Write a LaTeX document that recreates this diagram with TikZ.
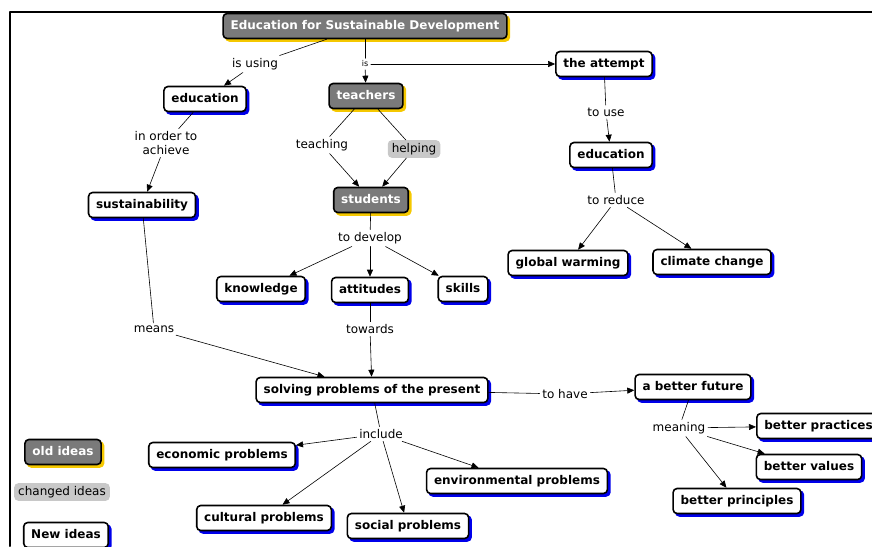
\documentclass[tikz,border=0pt]{standalone}
\usepackage{fontspec}
\setmainfont{DejaVu Sans}
\usetikzlibrary{arrows.meta,shadows}
\definecolor{oldgrey}{RGB}{122,122,122}
\definecolor{shadeyellow}{RGB}{245,200,0}
\definecolor{shadeblue}{RGB}{0,0,235}
\definecolor{lightgrey}{RGB}{200,200,200}
\tikzset{
    concept/.style={draw=black, line width=1.6pt, rounded corners=4pt, fill=white,
        font=\bfseries\fontsize{12}{14}\selectfont, minimum height=25pt, inner xsep=7.5pt,
        text height=9pt, text depth=2.5pt,
        copy shadow={shadow xshift=2.5pt, shadow yshift=-2.5pt, fill=shadeblue, draw=shadeblue}},
    oldconcept/.style={draw=black, line width=1.6pt, rounded corners=4pt, fill=oldgrey, text=white,
        font=\bfseries\fontsize{12}{14}\selectfont, minimum height=25pt, inner xsep=7.5pt,
        text height=9pt, text depth=2.5pt,
        copy shadow={shadow xshift=2.5pt, shadow yshift=-2.5pt, fill=shadeyellow, draw=shadeyellow}},
    linking/.style={font=\fontsize{12}{14}\selectfont, inner sep=2.5pt},
    changed/.style={linking, fill=lightgrey, rounded corners=4pt, inner xsep=4pt, inner ysep=3pt},
    link/.style={line width=0.6pt},
    arr/.style={link, -{Triangle[length=7pt,width=6pt]}}
}
\begin{document}
\begin{tikzpicture}[x=1pt,y=-1pt, line cap=round, line join=round]
\useasboundingbox (0,0) rectangle (872,546);
\draw [line width=2pt] (10,546) -- (10,12) -- (872,12);
% concepts
\node [oldconcept] (esd) at (365,26) {Education for Sustainable Development};
\node [concept] (edu1) at (205,99) {education};
\node [oldconcept] (teachers) at (366,96) {teachers};
\node [concept] (attempt) at (604,64) {the attempt};
\node [concept] (edu2) at (611,155) {education};
\node [concept] (sust) at (142,205) {sustainability};
\node [oldconcept] (students) at (371,200) {students};
\node [concept] (warming) at (568,263) {global warming};
\node [concept] (climate) at (712,262) {climate change};
\node [concept] (knowledge) at (261,289) {knowledge};
\node [concept] (attitudes) at (370,290) {attitudes};
\node [concept] (skills) at (463,289) {skills};
\node [concept] (solving) at (372,390) {solving problems of the present};
\node [concept] (future) at (693,387) {a better future};
\node [concept, anchor=west] (practices) at (756,426) {better practices};
\node [concept] (values) at (809,467) {better values};
\node [concept] (principles) at (737,501) {better principles};
\node [concept] (economic) at (222,455) {economic problems};
\node [concept] (environ) at (517,481) {environmental problems};
\node [concept] (cultural) at (264,518) {cultural problems};
\node [concept] (social) at (408,526) {social problems};
% legend
\node [oldconcept] (oldkey) at (63,452) {old ideas};
\node [changed] (changedkey) at (62,492) {changed ideas};
\node [concept] (newkey) at (66,535) {New ideas};
% linking phrases
\node [linking] (isusing) at (255,64) {is using};
\node [linking, font=\fontsize{8}{9}\selectfont] (is) at (365,64) {is};
\node [linking, align=center] (inorder) at (166,143) {in order to\\achieve};
\node [linking] (teaching) at (322,145) {teaching};
\node [changed] (helping) at (414,149) {helping};
\node [linking] (touse) at (606,112) {to use};
\node [linking] (todevelop) at (370,238) {to develop};
\node [linking] (toreduce) at (616,200) {to reduce};
\node [linking] (means) at (154,329) {means};
\node [linking] (towards) at (370,329) {towards};
\node [linking] (tohave) at (565,394) {to have};
\node [linking] (meaning) at (679,428) {meaning};
\node [linking] (include) at (381,434) {include};
% connectors
\draw [link] (esd) -- (isusing);
\draw [arr] (isusing) -- (edu1);
\draw [link] (esd) -- (is);
\draw [arr] (is) -- (teachers);
\draw [arr] (is) -- (attempt);
\draw [link] (edu1) -- (inorder);
\draw [arr] (inorder) -- (sust);
\draw [link] (teachers) -- (teaching);
\draw [arr] (teaching) -- (students);
\draw [link] (teachers) -- (helping);
\draw [arr] (helping) -- (students);
\draw [link] (attempt) -- (touse);
\draw [arr] (touse) -- (edu2);
\draw [link] (edu2) -- (toreduce);
\draw [arr] (toreduce) -- (warming);
\draw [arr] (toreduce) -- (climate);
\draw [link] (students) -- (todevelop);
\draw [arr] (todevelop) -- (knowledge);
\draw [arr] (todevelop) -- (attitudes);
\draw [arr] (todevelop) -- (skills);
\draw [link] (sust) -- (means);
\draw [arr] (means) -- (solving);
\draw [link] (attitudes) -- (towards);
\draw [arr] (towards) -- (solving);
\draw [link] (solving) -- (tohave);
\draw [arr] (tohave) -- (future);
\draw [link] (future) -- (meaning);
\draw [arr] (meaning) -- (practices);
\draw [arr] (meaning) -- (values);
\draw [arr] (meaning) -- (principles);
\draw [link] (solving) -- (include);
\draw [arr] (include) -- (economic);
\draw [arr] (include) -- (cultural);
\draw [arr] (include) -- (social);
\draw [arr] (include) -- (environ);
\end{tikzpicture}
\end{document}
